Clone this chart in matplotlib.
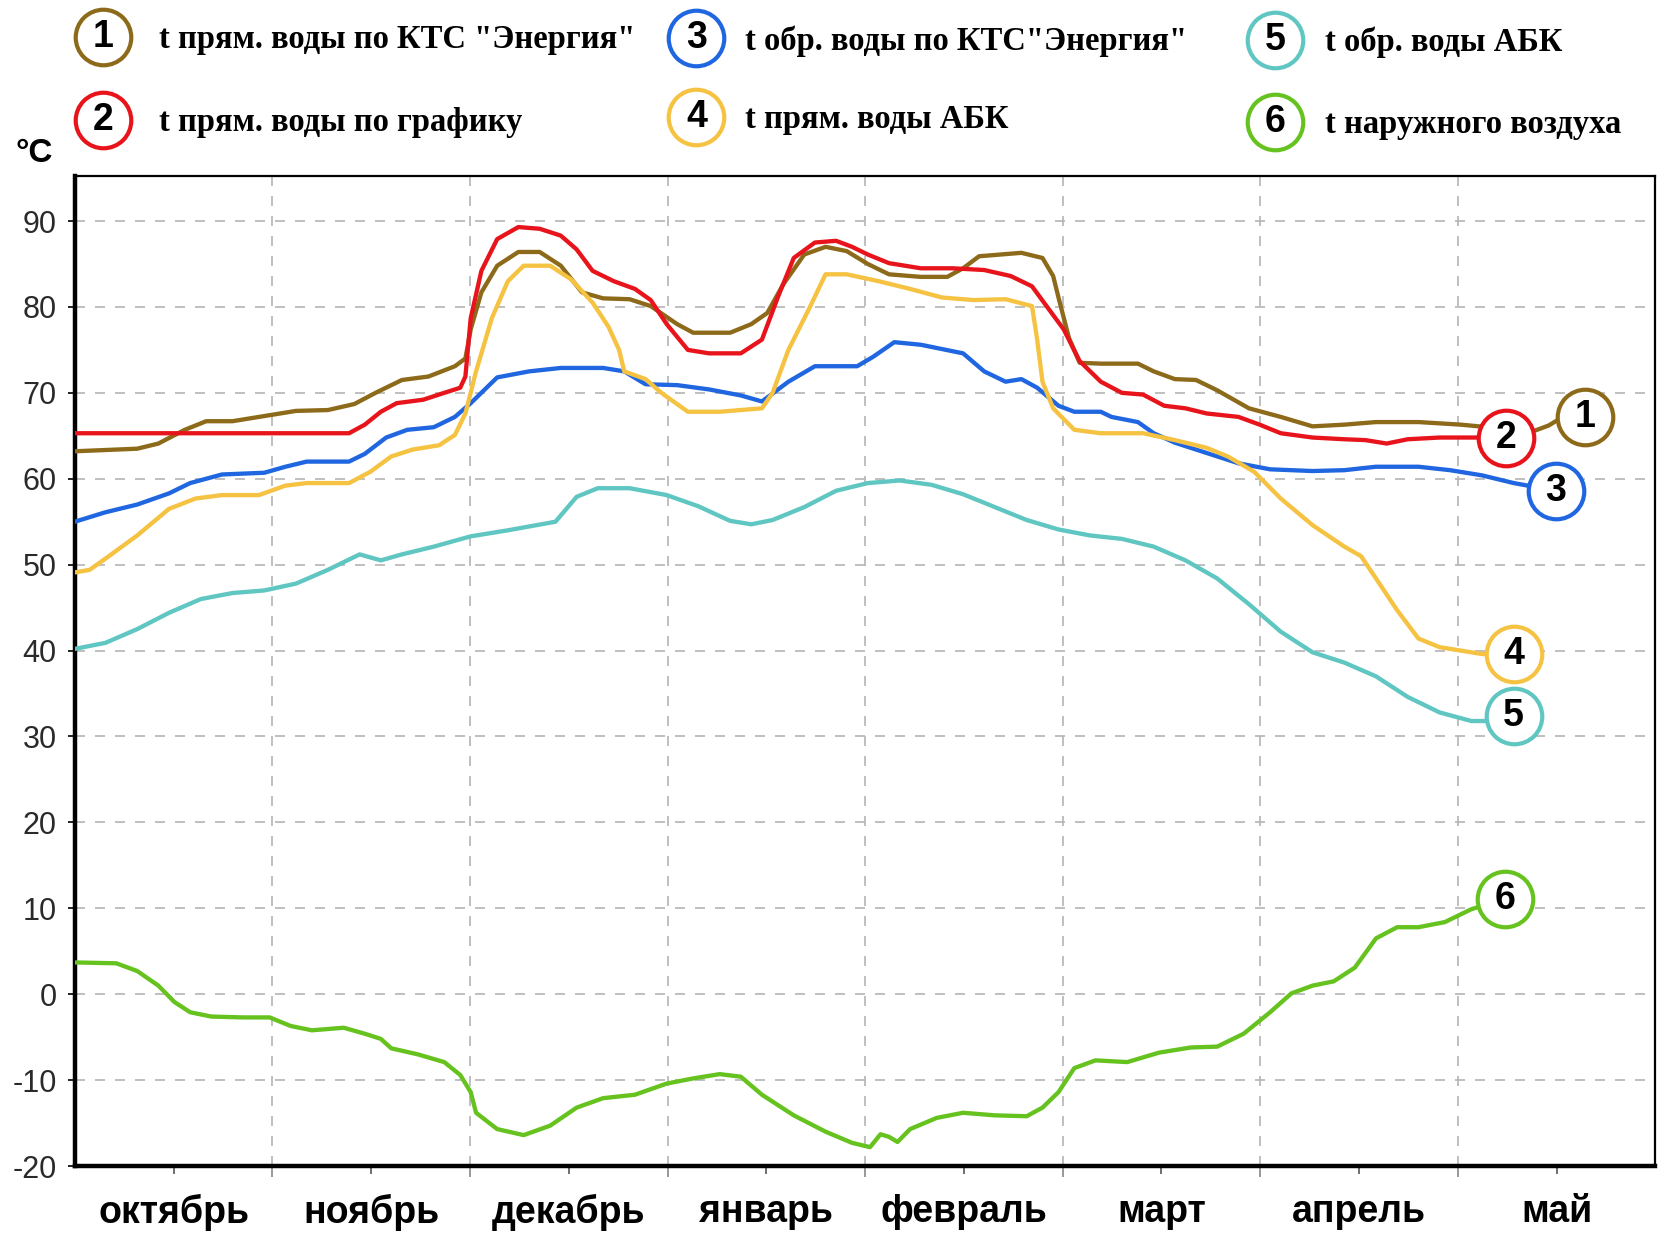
import matplotlib
matplotlib.use("Agg")
import matplotlib.pyplot as plt
import numpy as np
from matplotlib import font_manager

months = ["октябрь", "ноябрь", "декабрь", "январь", "февраль", "март", "апрель", "май"]
labels = ['t прям. воды по КТС "Энергия"', "t прям. воды по графику",
          't обр. воды по КТС"Энергия"', "t прям. воды АБК",
          "t обр. воды АБК", "t наружного воздуха"]
colors = ["#8c6a1a", "#e8141c", "#1f66e0", "#f5c242", "#5fc6c2", "#66c21e"]

# x = months since 1 October, t = °C
x1 = [0.0, 0.316, 0.423, 0.557, 0.665, 0.798, 0.959, 1.12, 1.281, 1.415, 1.522, 1.656, 1.79,
      1.924, 1.977, 2.004, 2.058, 2.138, 2.245, 2.353, 2.46, 2.567, 2.674, 2.808, 2.915, 3.049,
      3.13, 3.317, 3.424, 3.505, 3.585, 3.692, 3.8, 3.907, 4.014, 4.121, 4.282, 4.416, 4.496,
      4.577, 4.684, 4.791, 4.898, 4.952, 4.979, 5.032, 5.086, 5.193, 5.381, 5.461, 5.568,
      5.675, 5.782, 5.943, 6.104, 6.265, 6.426, 6.586, 6.801, 7.015, 7.2, 7.39, 7.46, 7.51, 7.642]
t1 = [63.2, 63.5, 64.1, 65.7, 66.7, 66.7, 67.3, 67.9, 68.0, 68.7, 70.0, 71.5, 71.9,
      73.1, 74.0, 77.4, 81.7, 84.8, 86.4, 86.4, 84.8, 81.7, 81.0, 80.9, 80.1, 78.0,
      77.0, 77.0, 78.0, 79.3, 82.6, 86.1, 87.0, 86.5, 85.0, 83.8, 83.5, 83.5, 84.5,
      85.9, 86.1, 86.3, 85.7, 83.6, 81.1, 76.4, 73.5, 73.4, 73.4, 72.5, 71.6,
      71.5, 70.3, 68.2, 67.2, 66.1, 66.3, 66.6, 66.6, 66.3, 65.9, 65.6, 66.2, 66.9, 67.2]

x2 = [0.0, 1.388, 1.468, 1.549, 1.629, 1.763, 1.87, 1.951, 1.977, 2.004, 2.058, 2.138, 2.245,
      2.353, 2.46, 2.54, 2.621, 2.728, 2.835, 2.915, 2.996, 3.103, 3.21, 3.371, 3.478, 3.558,
      3.639, 3.746, 3.853, 3.934, 4.014, 4.121, 4.282, 4.443, 4.603, 4.737, 4.845, 4.925,
      5.005, 5.086, 5.193, 5.3, 5.407, 5.514, 5.622, 5.729, 5.89, 5.997, 6.104, 6.265, 6.426,
      6.533, 6.64, 6.747, 6.908, 7.122, 7.245]
t2 = [65.3, 65.3, 66.3, 67.8, 68.8, 69.2, 70.0, 70.6, 71.9, 78.7, 84.2, 87.9, 89.3,
      89.1, 88.3, 86.7, 84.2, 83.0, 82.1, 80.8, 78.0, 75.0, 74.6, 74.6, 76.2, 81.1,
      85.7, 87.5, 87.7, 87.0, 86.1, 85.1, 84.5, 84.5, 84.3, 83.6, 82.4, 79.9,
      77.4, 73.7, 71.3, 70.0, 69.8, 68.5, 68.2, 67.6, 67.2, 66.3, 65.3, 64.8, 64.6,
      64.5, 64.1, 64.6, 64.8, 64.8, 64.7]

x3 = [0.0, 0.155, 0.316, 0.477, 0.584, 0.745, 0.959, 1.066, 1.174, 1.388, 1.468, 1.576, 1.683,
      1.817, 1.924, 2.004, 2.138, 2.299, 2.46, 2.674, 2.781, 2.889, 3.049, 3.21, 3.371, 3.478,
      3.612, 3.746, 3.96, 4.041, 4.148, 4.282, 4.496, 4.603, 4.711, 4.791, 4.871, 4.979,
      5.059, 5.193, 5.247, 5.381, 5.461, 5.568, 5.729, 5.89, 6.05, 6.265, 6.426, 6.586,
      6.801, 6.961, 7.122, 7.283, 7.497]
t3 = [55.0, 56.1, 57.0, 58.3, 59.5, 60.5, 60.7, 61.4, 62.0, 62.0, 62.9, 64.8, 65.7,
      66.0, 67.2, 68.8, 71.8, 72.5, 72.9, 72.9, 72.5, 71.0, 70.9, 70.4, 69.7, 69.0,
      71.3, 73.1, 73.1, 74.2, 75.9, 75.6, 74.6, 72.5, 71.3, 71.6, 70.6, 68.5,
      67.8, 67.8, 67.2, 66.6, 65.3, 64.2, 63.0, 61.8, 61.1, 60.9, 61.0, 61.4,
      61.4, 61.0, 60.4, 59.5, 58.6]

x4 = [0.0, 0.075, 0.155, 0.316, 0.477, 0.611, 0.745, 0.932, 1.066, 1.174, 1.388, 1.495, 1.602,
      1.71, 1.844, 1.924, 1.977, 2.031, 2.111, 2.192, 2.272, 2.406, 2.513, 2.621, 2.701,
      2.755, 2.781, 2.889, 2.969, 3.103, 3.264, 3.478, 3.532, 3.612, 3.719, 3.8, 3.907,
      4.068, 4.228, 4.389, 4.55, 4.711, 4.845, 4.871, 4.898, 4.952, 5.059, 5.193, 5.407,
      5.568, 5.729, 5.836, 5.97, 6.104, 6.265, 6.426, 6.51, 6.586, 6.693, 6.801, 6.908,
      7.122, 7.283]
t4 = [49.1, 49.4, 50.7, 53.4, 56.5, 57.7, 58.1, 58.1, 59.2, 59.5, 59.5, 60.8, 62.6,
      63.4, 63.9, 65.1, 67.6, 72.5, 78.7, 83.0, 84.8, 84.8, 83.2, 80.5, 77.7,
      75.0, 72.5, 71.6, 70.0, 67.8, 67.8, 68.2, 70.0, 75.0, 79.9, 83.8, 83.8,
      83.0, 82.1, 81.1, 80.8, 80.9, 80.1, 76.2, 71.3, 68.2, 65.7, 65.3, 65.3,
      64.5, 63.6, 62.6, 60.8, 57.7, 54.6, 52.1, 51.0, 48.4, 44.7, 41.4, 40.4,
      39.6, 39.6]

x5 = [0.0, 0.155, 0.316, 0.477, 0.638, 0.798, 0.959, 1.12, 1.281, 1.442, 1.549, 1.656, 1.817,
      2.004, 2.192, 2.433, 2.54, 2.647, 2.808, 2.996, 3.156, 3.317, 3.424, 3.532, 3.692,
      3.853, 4.014, 4.175, 4.336, 4.496, 4.657, 4.818, 4.979, 5.139, 5.3, 5.461, 5.622,
      5.782, 5.943, 6.104, 6.265, 6.426, 6.586, 6.747, 6.908, 7.069, 7.176, 7.283]
t5 = [40.2, 40.9, 42.5, 44.4, 46.0, 46.7, 47.0, 47.8, 49.4, 51.2, 50.5, 51.2, 52.1,
      53.3, 54.0, 55.0, 57.9, 58.9, 58.9, 58.1, 56.8, 55.1, 54.7, 55.2, 56.7,
      58.6, 59.5, 59.8, 59.3, 58.2, 56.7, 55.2, 54.1, 53.4, 53.0, 52.1, 50.5,
      48.4, 45.4, 42.2, 39.8, 38.6, 37.0, 34.6, 32.8, 31.8, 31.8, 32.4]

x6 = [0.0, 0.21, 0.316, 0.423, 0.504, 0.584, 0.691, 0.852, 0.986, 1.093, 1.2, 1.361, 1.468,
      1.549, 1.602, 1.736, 1.87, 1.951, 2.004, 2.031, 2.138, 2.272, 2.406, 2.54, 2.674,
      2.835, 2.996, 3.13, 3.264, 3.371, 3.478, 3.639, 3.8, 3.934, 4.025, 4.078, 4.121,
      4.164, 4.228, 4.362, 4.496, 4.657, 4.818, 4.898, 4.979, 5.059, 5.166, 5.327, 5.488,
      5.648, 5.782, 5.916, 6.05, 6.158, 6.265, 6.372, 6.479, 6.586, 6.693, 6.801, 6.935,
      7.069, 7.24]
t6 = [3.7, 3.6, 2.7, 1.0, -0.9, -2.1, -2.6, -2.7, -2.7, -3.7, -4.2, -3.9, -4.6,
      -5.2, -6.3, -7.0, -7.9, -9.4, -11.4, -13.8, -15.7, -16.4, -15.3, -13.2, -12.1,
      -11.7, -10.4, -9.8, -9.3, -9.6, -11.7, -14.1, -16.0, -17.3, -17.8, -16.3, -16.6,
      -17.2, -15.7, -14.4, -13.8, -14.1, -14.2, -13.2, -11.4, -8.6, -7.7, -7.9, -6.8,
      -6.2, -6.1, -4.6, -2.1, 0.1, 1.0, 1.5, 3.1, 6.5, 7.8, 7.8, 8.4,
      9.9, 11.1]

series = [(x1, t1), (x2, t2), (x3, t3), (x4, t4), (x5, t5), (x6, t6)]

plt.rcParams["axes.unicode_minus"] = False

names = {f.name for f in font_manager.fontManager.ttflist}
narrow = "Liberation Sans Narrow" if "Liberation Sans Narrow" in names else "Liberation Sans"
month_size = 31 if narrow == "Liberation Sans Narrow" else 27

fig = plt.figure(figsize=(16.62, 12.36), dpi=100)
ax = fig.add_axes([0.045, 0.0566, 0.951, 0.8014])

# draw lines, then the numbered circles on top of their ends
draw_order = [4, 3, 5, 2, 0, 1]
for i in draw_order:
    x, t = series[i]
    ax.plot(x, t, color=colors[i], lw=3.1, solid_joinstyle="round",
            solid_capstyle="round", zorder=3 + i * 0.1)
for i in [4, 3, 5, 2, 1, 0]:
    x, t = series[i]
    ax.scatter([x[-1]], [t[-1]], s=1600, facecolor="white", edgecolor=colors[i],
               linewidth=3, zorder=6, clip_on=False)
    ax.text(x[-1], t[-1], str(i + 1), ha="center", va="center", fontsize=27,
            fontweight="bold", family=narrow, zorder=7)

ax.set_xlim(0, 8)
ax.set_ylim(-20, 95.3)
ax.set_yticks(np.arange(-20, 91, 10))
ax.set_xticks(np.arange(1, 8))
ax.set_xticklabels([])
ax.set_xticks(np.arange(0.5, 8), minor=True)
ax.set_xticklabels(months, minor=True, fontsize=month_size, fontweight="bold", family=narrow)

ax.grid(True, which="major", color="#b4b4b4", linestyle=(0, (6, 6)), lw=1.2)
ax.tick_params(axis="y", direction="out", length=5, width=1.2, pad=8,
               labelsize=22, labelcolor="#2a2a2a")
for lab in ax.get_yticklabels():
    lab.set_family("Liberation Sans")
ax.tick_params(axis="x", which="major", direction="out", length=8, width=1.2, color="#888888")
ax.tick_params(axis="x", which="minor", direction="out", length=6, width=1.2,
               pad=14, color="#555555")

for side in ["left", "bottom"]:
    ax.spines[side].set_linewidth(3.2)
for side in ["top", "right"]:
    ax.spines[side].set_linewidth(1.6)

fig.text(0.0205, 0.876, "°C", fontsize=24, fontweight="bold", family="Liberation Sans",
         ha="center", va="center")

# legend: three columns of two rows
circle_pos = [(0.062, 0.970), (0.062, 0.903), (0.419, 0.969), (0.419, 0.905),
              (0.767, 0.968), (0.767, 0.901)]
text_x = [0.0957, 0.0957, 0.448, 0.448, 0.797, 0.797]
for i, (cx, cy) in enumerate(circle_pos):
    fig.add_artist(plt.Line2D([cx], [cy], marker="o", markersize=40, markerfacecolor="white",
                              markeredgecolor=colors[i], markeredgewidth=3,
                              transform=fig.transFigure))
    fig.text(cx, cy, str(i + 1), ha="center", va="center", fontsize=27,
             fontweight="bold", family=narrow)
    fig.text(text_x[i], cy - 0.002, labels[i], ha="left", va="center", fontsize=23.5,
             fontweight="bold", family="Liberation Serif")

fig.savefig("out.png", dpi=100, facecolor="white")
